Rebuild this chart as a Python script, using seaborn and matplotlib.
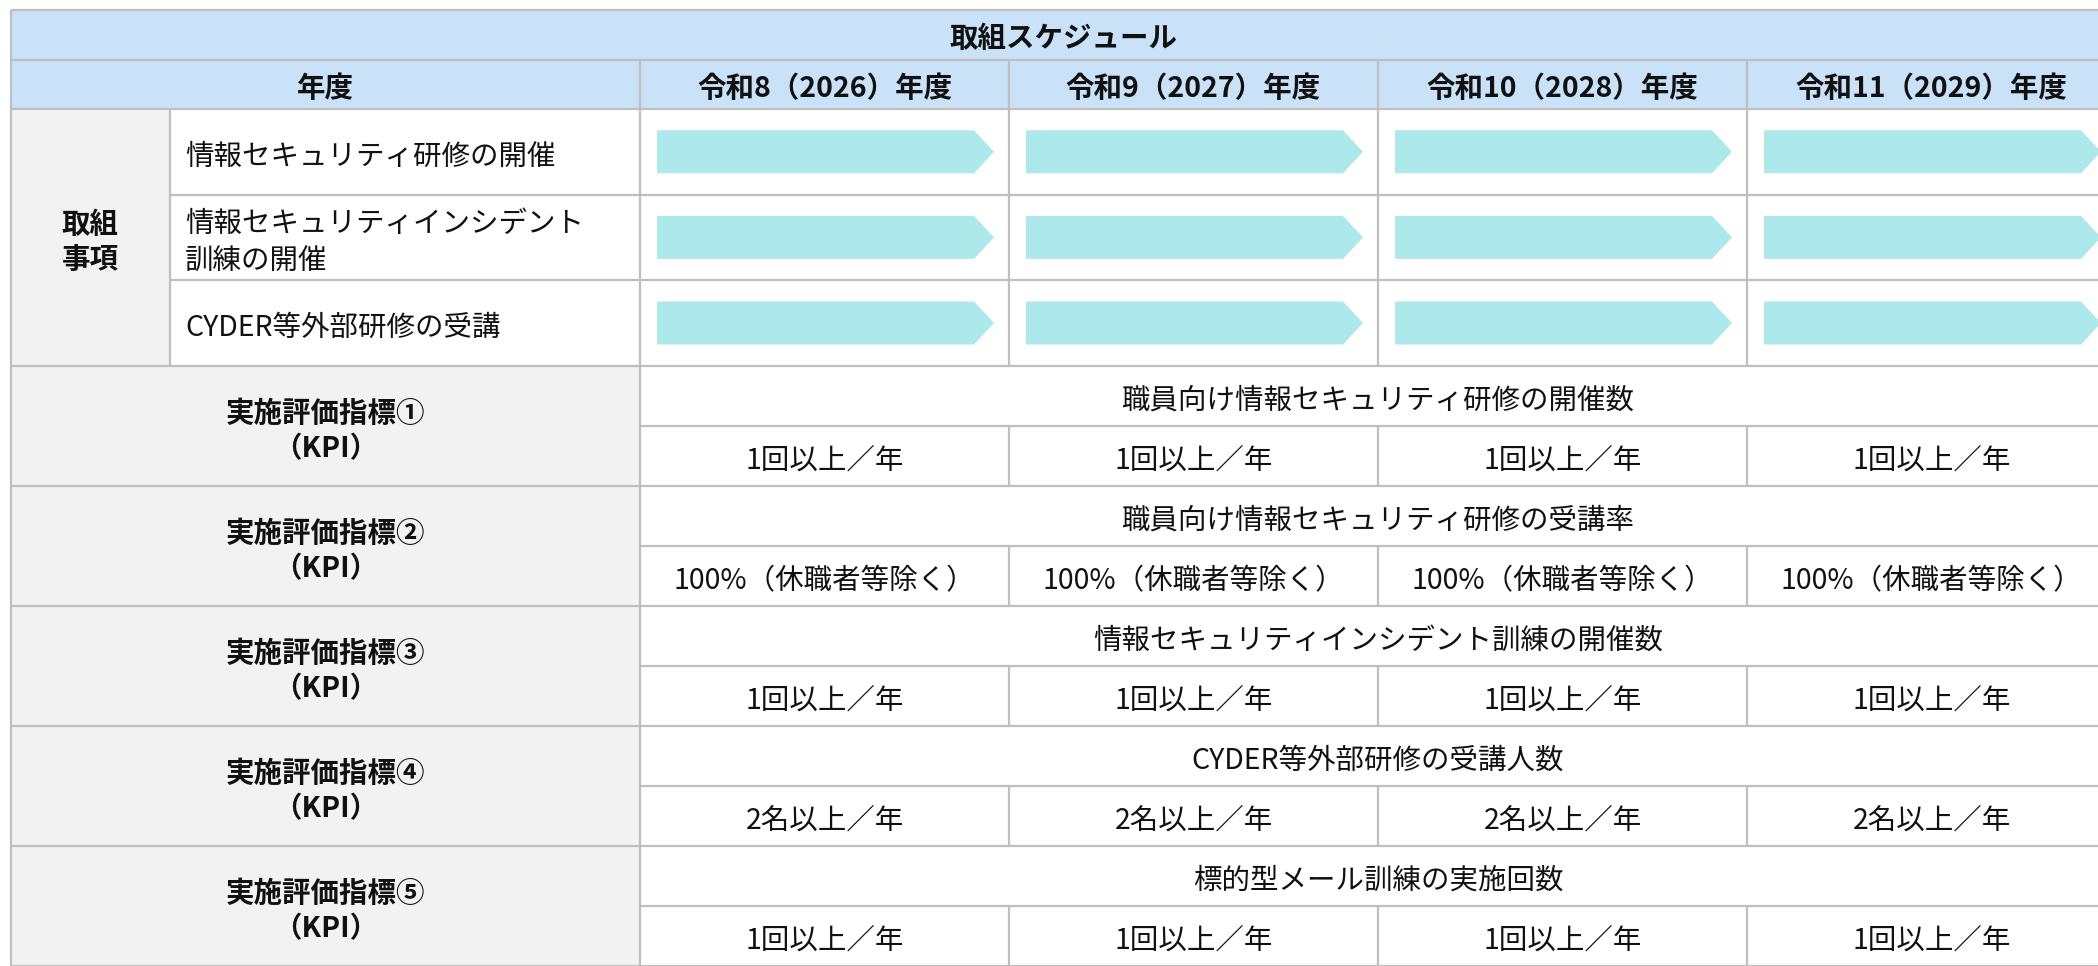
import matplotlib
matplotlib.use("Agg")
import matplotlib.pyplot as plt
from matplotlib.patches import Rectangle, Polygon
import seaborn as sns

# ---------------- data ----------------
title = "取組スケジュール"
year_header = "年度"
years = ["令和8（2026）年度", "令和9（2027）年度", "令和10（2028）年度", "令和11（2029）年度"]
group_label = "取組\n事項"
tasks = ["情報セキュリティ研修の開催",
         "情報セキュリティインシデント\n訓練の開催",
         "CYDER等外部研修の受講"]
# 1 = task scheduled in that year
schedule = [[1, 1, 1, 1],
            [1, 1, 1, 1],
            [1, 1, 1, 1]]
kpi_labels = ["実施評価指標①\n（KPI）", "実施評価指標②\n（KPI）", "実施評価指標③\n（KPI）",
              "実施評価指標④\n（KPI）", "実施評価指標⑤\n（KPI）"]
kpi_titles = ["職員向け情報セキュリティ研修の開催数",
              "職員向け情報セキュリティ研修の受講率",
              "情報セキュリティインシデント訓練の開催数",
              "CYDER等外部研修の受講人数",
              "標的型メール訓練の実施回数"]
kpi_values = [["1回以上／年"] * 4,
              ["100%（休職者等除く）"] * 4,
              ["1回以上／年"] * 4,
              ["2名以上／年"] * 4,
              ["1回以上／年"] * 4]

# ---------------- style ----------------
sns.set_theme(style="white")
plt.rcParams['font.family'] = ['Noto Sans CJK JP', 'DejaVu Sans']

HEAD_BLUE = "#C9E2F8"
GRAY = "#F2F2F2"
ARROW = "#ADE9EA"
LINE = "#BFBFBF"
FS = 20.5
LW = 1.6
DY = 5  # text baseline nudge (pixels, downwards)

W, H = 2098, 966
fig = plt.figure(figsize=(W / 100, H / 100), dpi=100)
ax = fig.add_axes([0, 0, 1, 1])
ax.set_xlim(0, W)
ax.set_ylim(H, 0)
ax.axis("off")

# layout
X0, X1, X2 = 10.7, 170, 640
COLW = 369
XR = X2 + COLW * len(years)
xc = [X2 + COLW * j for j in range(len(years) + 1)]
Y_TOP, Y_T, Y_H = 9.5, 59.5, 109
TASK_H = 85.6
yt = [Y_H + TASK_H * i for i in range(len(tasks) + 1)]
KPI_H = 120
yk = [yt[-1] + KPI_H * k for k in range(len(kpi_labels) + 1)]


def rect(x0, y0, x1, y1, color):
    ax.add_patch(Rectangle((x0, y0), x1 - x0, y1 - y0, facecolor=color, edgecolor="none", zorder=1))


def hline(y, x0, x1):
    ax.plot([x0, x1], [y, y], color=LINE, lw=LW, zorder=3, solid_capstyle="butt")


def vline(x, y0, y1):
    ax.plot([x, x], [y0, y1], color=LINE, lw=LW, zorder=3, solid_capstyle="butt")


def txt(x, y, s, bold=False, ha="center", ls=1.3):
    ax.text(x, y + DY, s, ha=ha, va="center", fontsize=FS,
            fontweight="bold" if bold else "normal", linespacing=ls, zorder=4, color="#111111")


# backgrounds
rect(X0, Y_TOP, XR, Y_H, HEAD_BLUE)
rect(X0, Y_H, X1, yt[-1], GRAY)
for k in range(len(kpi_labels)):
    rect(X0, yk[k], X2, yk[k + 1], GRAY)

# headers
txt((X0 + XR) / 2, (Y_TOP + Y_T) / 2, title, bold=True)
txt((X0 + X2) / 2, (Y_T + Y_H) / 2, year_header, bold=True)
for j, yr in enumerate(years):
    txt((xc[j] + xc[j + 1]) / 2, (Y_T + Y_H) / 2, yr, bold=True)

# task section
txt((X0 + X1) / 2, (yt[0] + yt[-1]) / 2, group_label, bold=True, ls=1.35)
for i, t in enumerate(tasks):
    cy = (yt[i] + yt[i + 1]) / 2
    txt(X1 + 15, cy, t, ha="left", ls=1.28)
    for j in range(len(years)):
        if schedule[i][j]:
            xl = xc[j] + 17
            xs = xc[j + 1] - 35
            xt = xc[j + 1] - 15
            hh = 21.5
            ax.add_patch(Polygon([(xl, cy - hh), (xs, cy - hh), (xt, cy), (xs, cy + hh), (xl, cy + hh)],
                                 closed=True, facecolor=ARROW, edgecolor="none", zorder=2))

# KPI section
for k in range(len(kpi_labels)):
    y0, y1 = yk[k], yk[k + 1]
    ym = (y0 + y1) / 2
    txt((X0 + X2) / 2, ym + 1, kpi_labels[k], bold=True, ls=1.35)
    txt((X2 + XR) / 2, (y0 + ym) / 2, kpi_titles[k])
    for j in range(len(years)):
        txt((xc[j] + xc[j + 1]) / 2, (ym + y1) / 2, kpi_values[k][j])

# grid lines
for y in [Y_TOP, Y_T, Y_H, yt[-1]] + yk[1:]:
    hline(y, X0, XR)
for y in yt[1:-1]:
    hline(y, X1, XR)
for k in range(len(kpi_labels)):
    hline((yk[k] + yk[k + 1]) / 2, X2, XR)
vline(X0, Y_TOP, H)
vline(X1, Y_H, yt[-1])
vline(X2, Y_T, H)
for x in xc[1:-1]:
    vline(x, Y_T, yt[-1])
    for k in range(len(kpi_labels)):
        vline(x, (yk[k] + yk[k + 1]) / 2, yk[k + 1])

fig.savefig("out.png", dpi=100, facecolor="white")
